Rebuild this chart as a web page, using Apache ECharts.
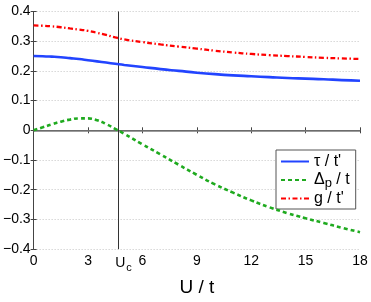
<!DOCTYPE html>
<html>
<head>
<meta charset="utf-8">
<script src="https://cdn.jsdelivr.net/npm/echarts@6/dist/echarts.min.js"></script>
<style>
html,body{margin:0;padding:0;background:#fff;}
#chart{width:371px;height:302px;}
</style>
</head>
<body>
<div id="chart"></div>
<script>
// U / t sample points
const uValues = [0,0.5,1,1.5,2,2.5,3,3.5,4,4.5,5,6,7,8,9,10,11,12,13,14,15,16,17,18];
// tau / t'
const tauValues = [0.250,0.2495,0.248,0.246,0.243,0.240,0.236,0.232,0.228,0.224,0.220,0.213,0.206,0.200,0.194,0.189,0.185,0.182,0.179,0.176,0.174,0.172,0.169,0.167];
// Delta_p / t
const deltaValues = [0,0.010,0.020,0.029,0.036,0.040,0.040,0.034,0.021,0.005,-0.012,-0.047,-0.081,-0.116,-0.150,-0.182,-0.210,-0.236,-0.259,-0.279,-0.296,-0.312,-0.328,-0.343];
// g / t'
const gValues = [0.353,0.352,0.350,0.347,0.343,0.339,0.335,0.328,0.321,0.313,0.306,0.297,0.289,0.282,0.275,0.268,0.262,0.257,0.253,0.250,0.247,0.244,0.242,0.240];
// critical U
const criticalU = 4.65;
// tick labels
const xTicks = [0,3,6,9,12,15,18];
const yTicks = [-0.4,-0.3,-0.2,-0.1,0,0.1,0.2,0.3,0.4];
const seriesNames = ["τ / t'", "Δ_p / t", "g / t'"];

const FONT = '"Liberation Sans", Arial, Helvetica, sans-serif';
const zip = (ys) => uValues.map((u, i) => [u, ys[i]]);

const chart = echarts.init(document.getElementById('chart'), null, {renderer: 'canvas'});
const frame = {show: true, lineStyle: {color: '#444', width: 1}};
const tick = {show: true, inside: true, length: 3, lineStyle: {color: '#444'}};

chart.setOption({
  animation: false,
  backgroundColor: '#fff',
  grid: {left: 32, right: 11, top: 11.5, bottom: 33, containLabel: false},
  legend: {
    orient: 'vertical',
    left: 276, top: 150,
    width: 81,
    padding: [3, 6, 2, 4],
    itemGap: 0,
    itemWidth: 28, itemHeight: 14,
    backgroundColor: '#fff',
    borderColor: '#555', borderWidth: 1,
    itemStyle: {opacity: 0},
    data: seriesNames,
    formatter: function (name) {
      if (name === "Δ_p / t") return '{n|Δ}{s|p}{n| / t}';
      return '{n|' + name + '}';
    },
    textStyle: {
      fontFamily: FONT, color: '#000', fontSize: 16, lineHeight: 17,
      rich: {
        n: {fontFamily: FONT, fontSize: 16, color: '#000', lineHeight: 17},
        s: {fontFamily: FONT, fontSize: 13, color: '#000', lineHeight: 13, padding: [7, 0, 0, 0]}
      }
    }
  },
  xAxis: [{
    type: 'value', min: 0, max: 18, interval: 3,
    position: 'bottom',
    name: 'U / t', nameLocation: 'middle', nameGap: 20,
    nameTextStyle: {fontFamily: FONT, fontSize: 19, color: '#000'},
    axisLine: frame,
    axisTick: Object.assign({}, tick, {customValues: xTicks}),
    splitLine: {show: false},
    axisLabel: {
      customValues: [0, 3, criticalU, 6, 9, 12, 15, 18],
      margin: 5,
      fontFamily: FONT, fontSize: 14, color: '#000',
      formatter: function (v) {
        if (Math.abs(v - criticalU) < 1e-6) return '{u|U}{c|c}';
        return '{d|' + v + '}';
      },
      rich: {
        d: {fontFamily: FONT, fontSize: 14, color: '#000'},
        u: {fontFamily: FONT, fontSize: 14, color: '#000', padding: [0, 0, 0, 11]},
        c: {fontFamily: FONT, fontSize: 11, color: '#000', padding: [8, 0, 0, 1]}
      }
    }
  }, {
    type: 'value', min: 0, max: 18, interval: 3,
    position: 'top',
    axisLine: frame,
    axisTick: tick,
    axisLabel: {show: false},
    splitLine: {show: false}
  }],
  yAxis: [{
    type: 'value', min: -0.4, max: 0.4, interval: 0.1,
    position: 'left',
    axisLine: frame,
    axisTick: tick,
    axisLabel: {
      margin: 3,
      fontFamily: FONT, fontSize: 14, color: '#000',
      formatter: function (v) {
        if (Math.abs(v) < 1e-9) return '0';
        const s = Math.abs(v).toFixed(1);
        return v < 0 ? '\u2212' + s : s;
      }
    },
    splitLine: {show: true, lineStyle: {color: '#c4c4c4', width: 1, type: [1, 2]}}
  }, {
    type: 'value', min: -0.4, max: 0.4, interval: 0.1,
    position: 'right',
    axisLine: frame,
    axisTick: tick,
    axisLabel: {show: false},
    splitLine: {show: false}
  }],
  series: [{
    name: seriesNames[0],
    type: 'line',
    data: zip(tauValues),
    smooth: true,
    symbol: 'none',
    z: 3,
    lineStyle: {color: '#2244ff', width: 2.6, type: 'solid'},
    itemStyle: {color: '#2244ff'},
    markLine: {
      silent: true,
      symbol: 'none',
      label: {show: false},
      animation: false,
      z: 1,
      data: [
        {yAxis: 0, lineStyle: {color: '#7a7a7a', width: 1.6, type: 'solid'}},
        {xAxis: criticalU, lineStyle: {color: '#333', width: 1, type: 'solid'}}
      ]
    }
  }, {
    name: seriesNames[1],
    type: 'line',
    data: zip(deltaValues),
    smooth: true,
    symbol: 'none',
    z: 4,
    lineStyle: {color: '#1faa1f', width: 2.6, type: [4, 3]},
    itemStyle: {color: '#1faa1f'}
  }, {
    name: seriesNames[2],
    type: 'line',
    data: zip(gValues),
    smooth: true,
    symbol: 'none',
    z: 4,
    lineStyle: {color: '#ff0000', width: 2.3, type: [5, 2.5, 1.5, 2.5]},
    itemStyle: {color: '#ff0000'}
  }]
});
</script>
</body>
</html>
